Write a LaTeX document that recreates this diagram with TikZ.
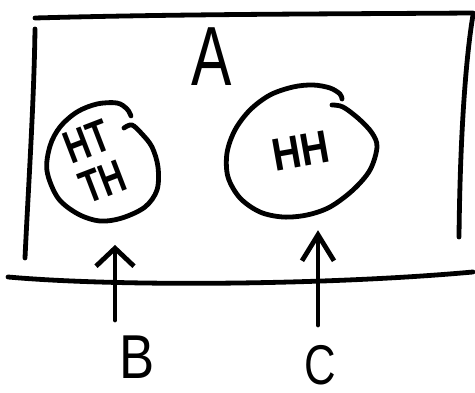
\documentclass[tikz,border=0pt]{standalone}
\usepackage{fontspec}
\setmainfont{Liberation Sans}
\usetikzlibrary{shapes.geometric,arrows.meta}
\begin{document}
\begin{tikzpicture}[x=1pt,y=1pt,
  ink/.style={line width=4.8pt, line cap=round, line join=round},
  region/.style={ellipse, inner sep=0pt},
  letter/.style={inner sep=0pt, font=\fontsize{#1}{#1}\selectfont},
  pointer/.style 2 args={ink, -{Straight Barb[length=#1, width=#2]}}
]
\useasboundingbox (0,0) rectangle (475,393);

% frame of the sample space
\draw[ink] (35,375) .. controls (180,379) and (330,379) .. (473,380);
\draw[ink] (35,364) .. controls (34,290) and (28,200) .. (25,135);
\draw[ink] (473,378) .. controls (465,330) and (460,250) .. (459,156);
\draw[ink] (8,116) .. controls (120,106) and (330,108) .. (473,121);

\node[letter=84, xscale=0.72] (a) at (212,336) {A};

% event B: the two mixed outcomes
\node[region, minimum width=112pt, minimum height=118pt,
      font=\fontsize{46}{39}\selectfont\bfseries] (ht) at (97,226)
  {\rotatebox{21}{\begin{tabular}{@{}c@{}}\scalebox{0.74}[1]{HT}\\\scalebox{0.74}[1]{TH}\end{tabular}}};
\draw[ink] plot[smooth, tension=0.55] coordinates {
  (124,265) (132,268) (142,259) (152,246) (158,226) (157,203) (145,186)
  (122,175) (100,172) (78,179) (58,195) (47,222) (50,247) (60,266)
  (77,281) (97,289) (117,290) (127,284) (131,277)};

% event C: both heads
\node[region, minimum width=150pt, minimum height=132pt,
      font=\fontsize{46}{46}\selectfont\bfseries] (hh) at (301,242)
  {\rotatebox{10}{\scalebox{0.86}[1]{HH}}};
\draw[ink] plot[smooth, tension=0.55] coordinates {
  (332,288) (343,286) (359,274) (372,260) (377,246) (370,223) (353,203)
  (330,186) (307,178) (283,176) (260,181) (240,195) (228,216) (227,240)
  (235,263) (250,283) (270,298) (293,306) (313,308) (330,305) (340,299)
  (342,294)};

% labels and pointers
\node[letter=62, xscale=0.85] (b) at (137,36) {B};
\node[letter=56, xscale=0.78] (c) at (320,28) {C};
\coordinate (tb) at (115,73);
\coordinate (tc) at (318,68);
\draw[pointer={18pt}{38pt}, shorten >=9pt] (tb) -- (tb |- ht.south);
\draw[pointer={26pt}{32pt}, shorten >=13pt] (tc) -- (tc |- hh.south);
\end{tikzpicture}
\end{document}
